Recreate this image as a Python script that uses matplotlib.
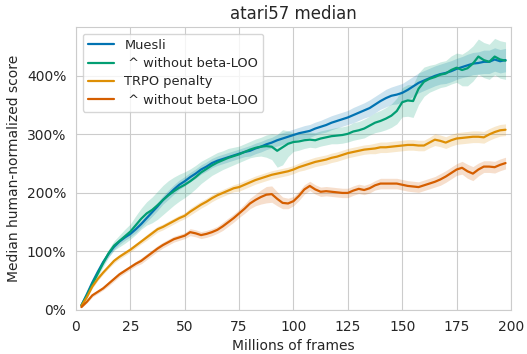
#!/usr/bin/env python3

import numpy as np
import matplotlib
matplotlib.use("Agg")
import matplotlib.pyplot as plt
from matplotlib.ticker import FuncFormatter
import seaborn as sns

# ------------------------------------------------------------
# Data (% human-normalized score)
# ------------------------------------------------------------

frames = np.arange(2.5, 198, 2.5)

muesli = [8, 27, 47, 65, 82, 96, 108, 117, 124, 130,
          138, 147, 157, 167, 177, 188, 197, 206, 214, 220,
          227, 233, 240, 245, 251, 255, 258, 261, 264, 267,
          270, 272, 276, 279, 283, 286, 290, 293, 296, 299,
          302, 304, 306, 310, 313, 316, 320, 323, 326, 329,
          333, 337, 341, 345, 351, 357, 362, 366, 368, 371,
          376, 382, 388, 392, 396, 400, 403, 405, 408, 412,
          415, 418, 421, 422, 424, 424, 428, 425, 427]
muesli_spread = [1, 3, 4, 4, 4, 5, 5, 5, 5, 5,
                 6, 6, 6, 7, 7, 7, 8, 8, 8, 8,
                 8, 8, 8, 8, 8, 8, 8, 8, 8, 8,
                 8, 9, 9, 9, 9, 9, 10, 10, 10, 10,
                 10, 11, 11, 11, 11, 12, 12, 12, 12, 12,
                 13, 13, 13, 14, 14, 14, 15, 15, 16, 16,
                 17, 17, 17, 17, 17, 17, 17, 18, 18, 18,
                 18, 19, 19, 19, 20, 20, 20, 20, 20]

muesli_noloo = [8, 25, 44, 62, 80, 97, 110, 118, 126, 134,
                145, 156, 165, 171, 179, 188, 196, 203, 209, 214,
                220, 227, 235, 241, 247, 252, 256, 260, 263, 266,
                270, 274, 277, 279, 280, 279, 272, 278, 284, 287,
                288, 290, 291, 290, 293, 295, 297, 298, 299, 301,
                305, 307, 310, 315, 320, 323, 327, 332, 340, 355,
                358, 357, 378, 390, 395, 398, 402, 404, 410, 414,
                410, 413, 421, 433, 427, 424, 433, 428, 426]
muesli_noloo_spread = [1, 3, 4, 5, 6, 7, 8, 10, 12, 13,
                       16, 18, 20, 22, 24, 25, 25, 24, 23, 22,
                       21, 20, 19, 18, 17, 17, 16, 16, 15, 14,
                       14, 14, 15, 16, 19, 22, 28, 30, 22, 16,
                       15, 14, 13, 13, 13, 13, 13, 14, 14, 14,
                       15, 15, 16, 16, 17, 18, 19, 20, 22, 25,
                       27, 28, 27, 25, 23, 22, 22, 22, 24, 25,
                       27, 30, 30, 30, 30, 30, 31, 32, 32]

trpo = [7, 22, 40, 53, 64, 74, 84, 91, 97, 103,
        110, 117, 124, 131, 138, 142, 147, 152, 157, 161,
        168, 174, 180, 185, 191, 196, 200, 204, 208, 210,
        214, 218, 222, 225, 228, 231, 233, 235, 237, 240,
        244, 247, 250, 253, 255, 257, 260, 262, 265, 268,
        270, 272, 274, 275, 276, 278, 278, 279, 280, 281,
        282, 282, 281, 281, 286, 291, 289, 286, 290, 293,
        294, 295, 296, 296, 295, 300, 304, 307, 308]
trpo_spread = [1, 2, 3, 3, 3, 3, 4, 4, 4, 4,
               4, 4, 5, 5, 5, 5, 5, 5, 5, 5,
               6, 6, 6, 6, 6, 6, 6, 6, 6, 7,
               7, 7, 7, 7, 7, 7, 7, 7, 7, 7,
               7, 8, 8, 8, 8, 8, 8, 8, 8, 8,
               8, 8, 8, 8, 9, 9, 9, 9, 9, 9,
               9, 9, 9, 9, 9, 10, 10, 10, 10, 10,
               10, 10, 10, 10, 10, 10, 10, 10, 10]

trpo_noloo = [5, 14, 25, 31, 37, 45, 53, 61, 67, 73,
              79, 84, 91, 98, 105, 111, 116, 121, 124, 127,
              133, 131, 128, 130, 133, 137, 143, 150, 157, 165,
              173, 182, 188, 193, 197, 198, 190, 183, 182, 186,
              195, 206, 212, 206, 202, 203, 202, 201, 200, 200,
              204, 207, 205, 208, 213, 216, 216, 216, 216, 214,
              212, 211, 210, 213, 216, 219, 223, 228, 234, 240,
              243, 237, 233, 240, 245, 245, 244, 248, 251]
trpo_noloo_spread = [1, 2, 3, 3, 3, 4, 4, 4, 4, 4,
                     4, 5, 5, 5, 5, 5, 5, 5, 5, 5,
                     6, 6, 6, 6, 6, 6, 7, 7, 7, 7,
                     8, 9, 10, 12, 14, 14, 12, 10, 9, 8,
                     8, 8, 8, 8, 8, 8, 8, 8, 8, 8,
                     8, 8, 8, 8, 8, 9, 9, 9, 9, 9,
                     9, 9, 9, 9, 9, 9, 10, 10, 10, 10,
                     11, 12, 12, 11, 10, 10, 10, 10, 10]

labels = ["Muesli", " ^ without beta-LOO", "TRPO penalty", " ^ without beta-LOO"]
colors = ["#0173b2", "#029e73", "#de8f05", "#d55e00"]


# ------------------------------------------------------------
# Plot
# ------------------------------------------------------------

def main():

    sns.set_style("whitegrid")
    plt.rcParams['font.family'] = ['DejaVu Sans']

    fig = plt.figure(figsize=(5.27, 3.54), dpi=100)
    ax = fig.add_axes([0.1442, 0.1243, 0.8254, 0.7986])

    series = [(muesli, muesli_spread), (muesli_noloo, muesli_noloo_spread),
              (trpo, trpo_spread), (trpo_noloo, trpo_noloo_spread)]

    for (mean, spread), label, color in zip(series, labels, colors):
        m = np.array(mean) / 100.0
        s = np.array(spread) / 100.0
        ax.fill_between(frames, m - s, m + s, color=color, alpha=0.2, linewidth=0)
        ax.plot(frames, m, color=color, linewidth=1.6, label=label)

    ax.set_xlim(0, 200)
    ax.set_ylim(0, 4.83)
    ax.set_xticks([0, 25, 50, 75, 100, 125, 150, 175, 200])
    ax.set_yticks([0, 1, 2, 3, 4])
    ax.yaxis.set_major_formatter(FuncFormatter(lambda v, _: "{0:.0f}%".format(v * 100)))
    ax.tick_params(labelsize=10)

    ax.set_title("atari57 median", fontsize=12)
    ax.set_xlabel("Millions of frames", fontsize=10)
    ax.set_ylabel("Median human-normalized score", fontsize=10)

    ax.legend(loc="upper left", fontsize=9.4, frameon=True, labelspacing=0.4)

    fig.savefig("out.png", dpi=100)


if __name__ == "__main__":
    main()
